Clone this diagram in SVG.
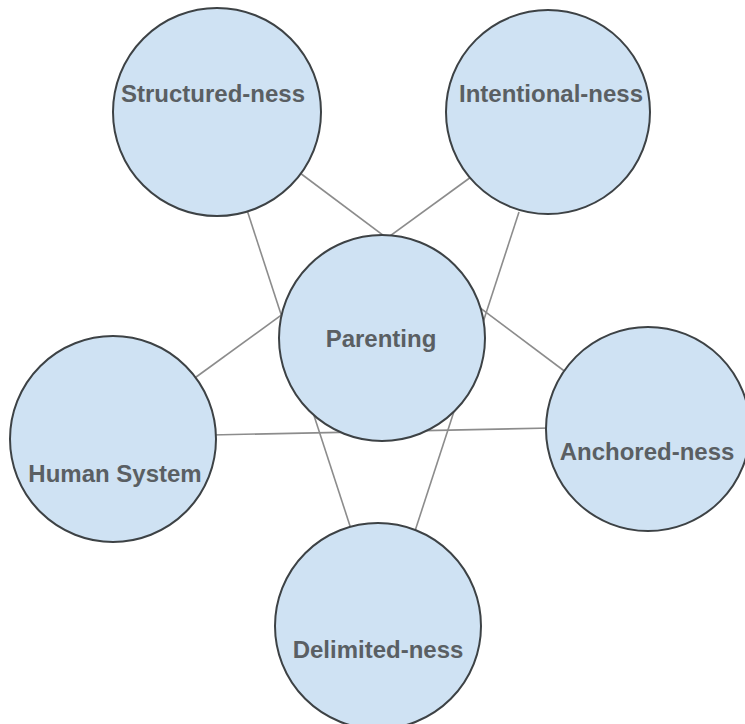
<svg xmlns="http://www.w3.org/2000/svg" width="745" height="724" viewBox="0 0 745 724">
<style>
.node circle{fill:#cfe2f3;stroke:#3d4245;stroke-width:2}
.node text{font-family:"Liberation Sans",Arial,sans-serif;font-weight:bold;font-size:24px;fill:#5a5f63;text-anchor:middle}
.edges line{stroke:#8c8c8c;stroke-width:1.6}
</style>
<rect width="745" height="724" fill="#ffffff"/>
<g id="connectors" class="edges">
<line x1="296" y1="170" x2="567" y2="373"/>
<line x1="247" y1="210" x2="351" y2="529"/>
<line x1="471" y1="177" x2="192" y2="380"/>
<line x1="519" y1="212" x2="415" y2="531"/>
<line x1="211" y1="435" x2="551" y2="428"/>
</g>
<g id="node-structured" class="node">
<circle cx="217" cy="112" r="104"/>
<text x="213" y="102">Structured-ness</text>
</g>
<g id="node-intentional" class="node">
<circle cx="548" cy="112" r="102"/>
<text x="551" y="102">Intentional-ness</text>
</g>
<g id="node-parenting" class="node">
<circle cx="382" cy="338" r="103"/>
<text x="381" y="347">Parenting</text>
</g>
<g id="node-human" class="node">
<circle cx="113" cy="439" r="103"/>
<text x="115" y="482">Human System</text>
</g>
<g id="node-anchored" class="node">
<circle cx="648" cy="429" r="102"/>
<text x="647" y="460">Anchored-ness</text>
</g>
<g id="node-delimited" class="node">
<circle cx="378" cy="626" r="103"/>
<text x="378" y="658">Delimited-ness</text>
</g>
</svg>
